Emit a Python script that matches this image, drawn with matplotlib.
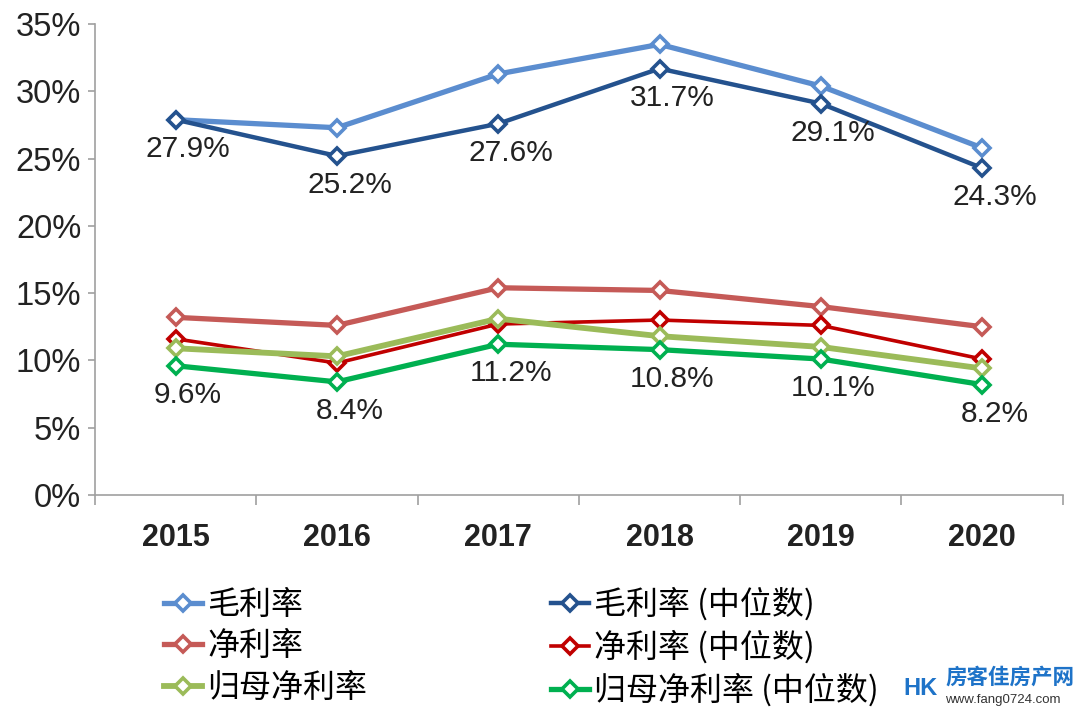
import matplotlib
matplotlib.use("Agg")
import matplotlib.pyplot as plt
from matplotlib.ticker import FixedLocator, NullFormatter, FuncFormatter

plt.rcParams['font.family'] = ['Liberation Sans', 'Noto Sans CJK SC', 'DejaVu Sans']

years = ['2015', '2016', '2017', '2018', '2019', '2020']
gross = [27.9, 27.3, 31.3, 33.5, 30.4, 25.8]
gross_med = [27.9, 25.2, 27.6, 31.7, 29.1, 24.3]
net = [13.2, 12.6, 15.4, 15.2, 14.0, 12.5]
net_med = [11.6, 9.8, 12.7, 13.0, 12.6, 10.1]
parent_net = [10.9, 10.3, 13.1, 11.8, 11.0, 9.4]
parent_net_med = [9.6, 8.4, 11.2, 10.8, 10.1, 8.2]

names = ['毛利率', '毛利率 (中位数)', '净利率', '净利率 (中位数)', '归母净利率', '归母净利率 (中位数)']
colors = ['#5B8DCF', '#24528E', '#C55A57', '#C00000', '#9BBB59', '#00B050']
widths = [3.8, 3.2, 3.8, 2.6, 4.2, 3.8]

fig = plt.figure(figsize=(10.8, 7.12), dpi=100)
ax = fig.add_axes([0.088, 0.305, 0.896, 0.661])

x = list(range(len(years)))
series = [gross, gross_med, net, net_med, parent_net, parent_net_med]
order = [0, 2, 4, 1, 3, 5]
zorders = [3, 4, 3, 4, 5, 6]
lines = []
for s, n, c, w, z in zip(series, names, colors, widths, zorders):
    ln, = ax.plot(x, s, color=c, lw=w, marker='D', markersize=8,
                  markerfacecolor='white', markeredgecolor=c, markeredgewidth=2.6,
                  label=n, zorder=z, solid_joinstyle='miter')
    lines.append(ln)

for ser in [gross_med, parent_net_med]:
    for xi, v in zip(x, ser):
        ax.annotate(f'{v:.1f}%', (xi, v), xytext=(9, -21), textcoords='offset points',
                    ha='center', va='center', fontsize=21.5, color='#222222', zorder=10)

ax.set_xlim(-0.5, 5.5)
ax.set_ylim(0, 35)
ax.yaxis.set_major_locator(FixedLocator(range(0, 36, 5)))
ax.yaxis.set_major_formatter(FuncFormatter(lambda v, p: f'{int(v)}%'))
ax.xaxis.set_major_locator(FixedLocator([-0.5, 0.5, 1.5, 2.5, 3.5, 4.5, 5.5]))
ax.xaxis.set_major_formatter(NullFormatter())
ax.xaxis.set_minor_locator(FixedLocator(x))
ax.set_xticklabels(years, minor=True)
ax.tick_params(axis='x', which='minor', length=0, pad=20, labelsize=22)
ax.tick_params(axis='x', which='major', length=7, width=1.2, color='#A0A0A0', direction='out')
ax.tick_params(axis='y', length=5, width=1.2, color='#A0A0A0', labelsize=23.5, pad=5, labelcolor='#222222')
for lab in ax.get_xticklabels(minor=True):
    lab.set_fontweight('bold')
    lab.set_color('#222222')

for sp in ['top', 'right']:
    ax.spines[sp].set_visible(False)
for sp in ['left', 'bottom']:
    ax.spines[sp].set_color('#A0A0A0')
    ax.spines[sp].set_linewidth(1.2)

leg = fig.legend([lines[i] for i in order], [names[i] for i in order], ncol=2,
                 loc='upper left', bbox_to_anchor=(0.140, 0.193), frameon=False,
                 prop={'family': ['Noto Sans CJK SC', 'DejaVu Sans'], 'size': 23},
                 handlelength=1.2, handletextpad=0.15, columnspacing=5.75,
                 labelspacing=0.3, borderaxespad=0)

fig.text(0.875, 0.049, '房客佳房产网', color='#1E73C8', fontsize=15.5, fontweight='bold',
         family=['Noto Sans CJK SC'], va='center', ha='left')
fig.text(0.875, 0.017, 'www.fang0724.com', color='#333333', fontsize=9.5,
         va='center', ha='left')
fig.text(0.836, 0.033, 'HK', color='#1E73C8', fontsize=17, fontweight='bold',
         va='center', ha='left')

fig.savefig('out.png', dpi=100)
